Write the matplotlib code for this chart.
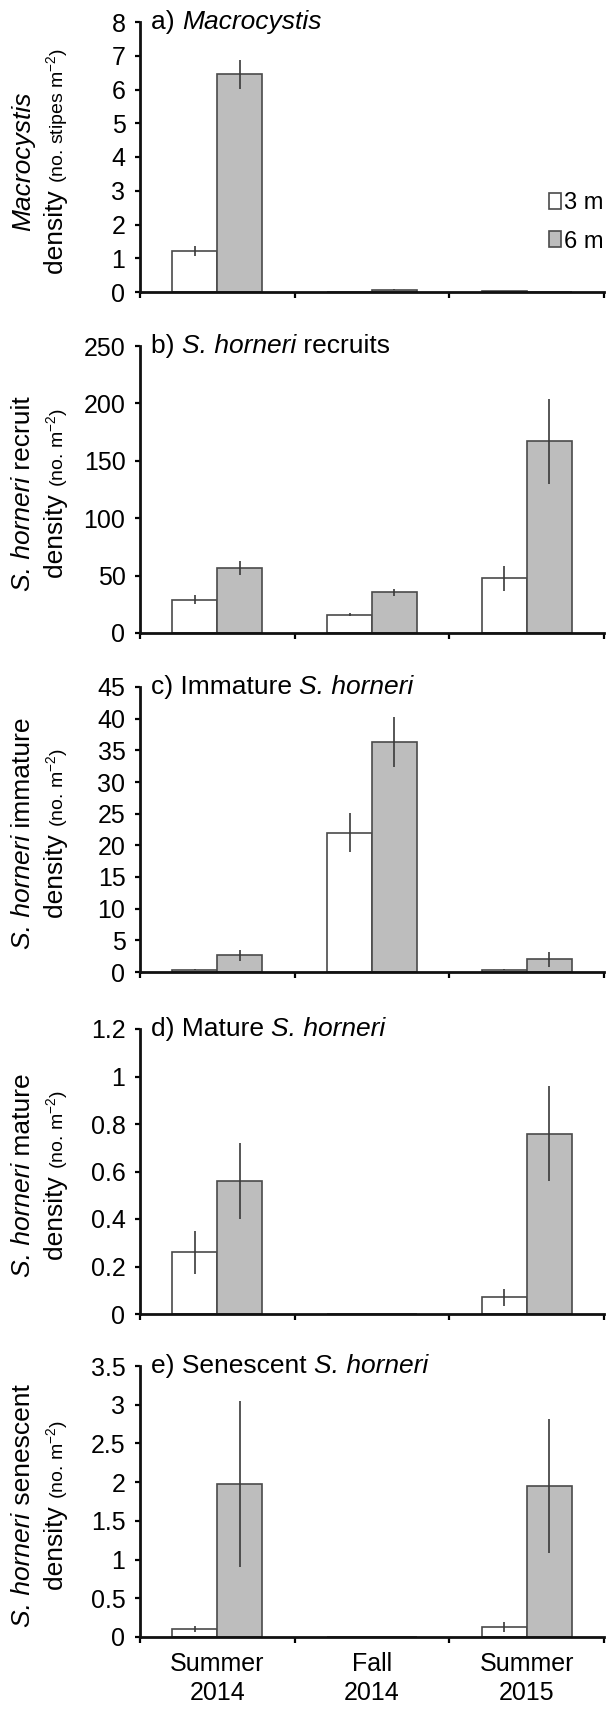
import numpy as np
import matplotlib
matplotlib.use('Agg')
import matplotlib.pyplot as plt

plt.rcParams['font.family'] = ['Liberation Sans', 'DejaVu Sans']
plt.rcParams['mathtext.fontset'] = 'custom'
plt.rcParams['mathtext.rm'] = 'Liberation Sans'
plt.rcParams['mathtext.it'] = 'Liberation Sans:italic'
plt.rcParams['mathtext.default'] = 'regular'

# data
seasons = ['Summer\n2014', 'Fall\n2014', 'Summer\n2015']
depths = ['3 m', '6 m']

macro_3m = [1.22, 0, 0.04]
macro_3m_se = [0.15, 0, 0]
macro_6m = [6.45, 0.07, 0]
macro_6m_se = [0.43, 0.01, 0]

recruit_3m = [29, 16, 47.5]
recruit_3m_se = [4, 1.5, 11]
recruit_6m = [56.5, 35.5, 167]
recruit_6m_se = [6, 3, 37]

immature_3m = [0.35, 22, 0.35]
immature_3m_se = [0.1, 3.1, 0.1]
immature_6m = [2.65, 36.3, 2.0]
immature_6m_se = [0.9, 3.9, 1.2]

mature_3m = [0.26, 0, 0.07]
mature_3m_se = [0.09, 0, 0.035]
mature_6m = [0.56, 0, 0.76]
mature_6m_se = [0.16, 0, 0.2]

senescent_3m = [0.1, 0, 0.13]
senescent_3m_se = [0.04, 0, 0.07]
senescent_6m = [1.98, 0, 1.95]
senescent_6m_se = [1.07, 0, 0.86]

W, H = 607, 1709
FS = 19
TICK = 18
SMALL = 14

def fx(p):
    return p / W

def fy(p):
    return 1 - p / H

fig = plt.figure(figsize=(W / 100, H / 100), dpi=100)
renderer = fig.canvas.get_renderer()

def text_width(s, size, style):
    # width in pixels, spaces included
    t1 = fig.text(0, 0, '|' + s + '|', fontsize=size, style=style)
    t2 = fig.text(0, 0, '||', fontsize=size, style=style)
    w = t1.get_window_extent(renderer).width - t2.get_window_extent(renderer).width
    t1.remove()
    t2.remove()
    return w

def rich_text(x, y, parts, vertical=False, center=False):
    widths = [text_width(s, sz, st) for s, st, sz in parts]
    pos = -sum(widths) / 2 if center else 0
    for (s, st, sz), w in zip(parts, widths):
        if vertical:
            fig.text(fx(x), fy(y - pos), s, fontsize=sz, style=st, rotation=90,
                     rotation_mode='anchor', ha='left', va='baseline')
        else:
            fig.text(fx(x + pos), fy(y), s, fontsize=sz, style=st,
                     ha='left', va='baseline')
        pos += w

# panel boxes in pixels (top, bottom)
boxes = [(22, 292), (346, 633), (687, 972), (1029, 1314), (1366, 1637)]
left, right = 140, 604

panels = [
    (macro_3m, macro_3m_se, macro_6m, macro_6m_se, 8, 1,
     [('a) ', 'normal', FS), ('Macrocystis', 'italic', FS)],
     [('Macrocystis', 'italic', FS)],
     [('density ', 'normal', FS), ('(no. stipes m$^{-2}$)', 'normal', SMALL)]),
    (recruit_3m, recruit_3m_se, recruit_6m, recruit_6m_se, 250, 50,
     [('b) ', 'normal', FS), ('S. horneri', 'italic', FS), (' recruits', 'normal', FS)],
     [('S. horneri', 'italic', FS), (' recruit', 'normal', FS)],
     [('density ', 'normal', FS), ('(no. m$^{-2}$)', 'normal', SMALL)]),
    (immature_3m, immature_3m_se, immature_6m, immature_6m_se, 45, 5,
     [('c) Immature ', 'normal', FS), ('S. horneri', 'italic', FS)],
     [('S. horneri', 'italic', FS), (' immature', 'normal', FS)],
     [('density ', 'normal', FS), ('(no. m$^{-2}$)', 'normal', SMALL)]),
    (mature_3m, mature_3m_se, mature_6m, mature_6m_se, 1.2, 0.2,
     [('d) Mature ', 'normal', FS), ('S. horneri', 'italic', FS)],
     [('S. horneri', 'italic', FS), (' mature', 'normal', FS)],
     [('density ', 'normal', FS), ('(no. m$^{-2}$)', 'normal', SMALL)]),
    (senescent_3m, senescent_3m_se, senescent_6m, senescent_6m_se, 3.5, 0.5,
     [('e) Senescent ', 'normal', FS), ('S. horneri', 'italic', FS)],
     [('S. horneri', 'italic', FS), (' senescent', 'normal', FS)],
     [('density ', 'normal', FS), ('(no. m$^{-2}$)', 'normal', SMALL)]),
]

x = np.arange(len(seasons))
bw = 0.29
edge = '#4a4a4a'

for i, (v3, e3, v6, e6, ymax, step, title, lab1, lab2) in enumerate(panels):
    top, bot = boxes[i]
    ax = fig.add_axes([fx(left), fy(bot), (right - left) / W, (bot - top) / H])
    b3 = ax.bar(x - bw / 2, v3, bw, color='white', edgecolor=edge, linewidth=1.2,
                label=depths[0], zorder=2)
    b6 = ax.bar(x + bw / 2, v6, bw, color='#bdbdbd', edgecolor=edge, linewidth=1.2,
                label=depths[1], zorder=2)
    ax.errorbar(x - bw / 2, v3, yerr=e3, fmt='none', ecolor='#3a3a3a', elinewidth=1.2,
                capsize=0, zorder=3)
    ax.errorbar(x + bw / 2, v6, yerr=e6, fmt='none', ecolor='#3a3a3a', elinewidth=1.2,
                capsize=0, zorder=3)

    ax.set_xlim(-0.5, 2.5)
    ax.set_ylim(0, ymax)
    yt = np.arange(0, ymax + step / 2, step)
    ax.set_yticks(yt, [f'{v:g}' for v in yt])
    ax.set_xticks([-0.5, 0.5, 1.5, 2.5], [])
    ax.set_xticks(x, seasons if i == 4 else [], minor=True)
    ax.tick_params(axis='x', which='major', direction='out', length=4.5, width=1.6)
    ax.tick_params(axis='x', which='minor', length=0, pad=11, labelsize=TICK)
    ax.tick_params(axis='y', direction='out', length=3.5, width=1.6, pad=7, labelsize=TICK)
    for lbl in ax.get_xticklabels(minor=True):
        lbl.set_linespacing(1.25)
    for s in ['top', 'right']:
        ax.spines[s].set_visible(False)
    for s in ['left', 'bottom']:
        ax.spines[s].set_linewidth(2.0)
        ax.spines[s].set_color('#111111')
    ax.spines['bottom'].set_zorder(4)
    ax.patch.set_visible(False)

    # panel title next to the top tick
    rich_text(151, top + 7, title)

    # two-line y label, centred on the axis
    yc = (top + bot) / 2 + 4
    rich_text(30, yc, lab1, vertical=True, center=True)
    rich_text(63, yc, lab2, vertical=True, center=True)

    if i == 0:
        fig.legend([b3, b6], depths, loc='upper left',
                   bbox_to_anchor=(fx(549), fy(192)), frameon=False, fontsize=17,
                   handlelength=0.5, handleheight=0.65, handletextpad=0.12,
                   labelspacing=0.7, borderpad=0, borderaxespad=0)

fig.savefig('out.png', dpi=100)
